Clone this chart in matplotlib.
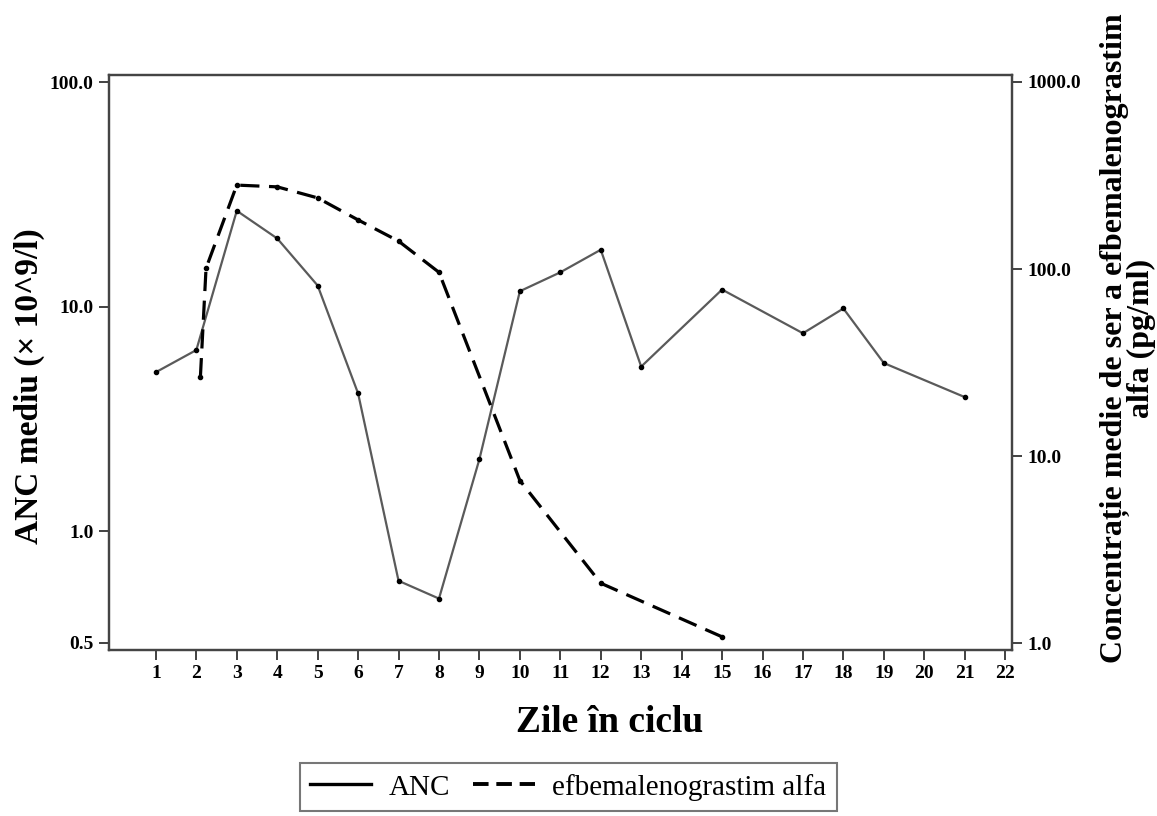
import matplotlib
matplotlib.use("Agg")
import matplotlib.pyplot as plt
from matplotlib.lines import Line2D

plt.rcParams['font.family'] = ['Liberation Serif', 'DejaVu Serif']

# ANC mediu (x 10^9/l), axa stanga
anc_days = [1, 2, 3, 4, 5, 6, 7, 8, 9, 10, 11, 12, 13, 15, 17, 18, 19, 21]
anc_vals = [5.1, 6.4, 26.7, 20.1, 12.4, 4.1, 0.60, 0.50, 2.09, 11.7, 14.2, 17.9,
            5.4, 11.9, 7.6, 9.8, 5.6, 3.95]

# efbemalenograstim alfa (pg/ml), axa dreapta
efb_days = [2.1, 2.24, 3, 4, 5, 6, 7, 8, 10, 12, 15]
efb_vals = [26.4, 101, 281, 275, 240, 183, 141, 96, 7.4, 2.09, 1.08]

x_ticks = list(range(1, 23))
left_ticks = [0.318, 1.0, 10.0, 100.0]
left_labels = ['0.5', '1.0', '10.0', '100.0']
right_ticks = [1.0, 10.0, 100.0, 1000.0]
right_labels = ['1.0', '10.0', '100.0', '1000.0']

fig = plt.figure(figsize=(11.57, 8.16), dpi=100)
ax = fig.add_axes([0.0942, 0.2034, 0.7805, 0.7047])
ax2 = ax.twinx()

ax.plot(anc_days, anc_vals, color='#5a5a5a', lw=1.6, marker='o', ms=3,
        mfc='black', mec='black')
ax2.plot(efb_days, efb_vals, color='black', lw=2.3, dashes=(6, 3), marker='o',
         ms=3, mfc='black', mec='black')

ax.set_yscale('log')
ax2.set_yscale('log')
ax.set_ylim(0.295, 107.5)
ax2.set_ylim(0.918, 1090)
ax.set_xlim(-0.16, 22.17)

ax.set_xticks(x_ticks)
ax.set_xticklabels([str(d) for d in x_ticks], fontsize=14, fontweight='bold')
ax.set_yticks(left_ticks)
ax.set_yticklabels(left_labels, fontsize=14, fontweight='bold')
ax.yaxis.set_minor_locator(matplotlib.ticker.NullLocator())
ax2.set_yticks(right_ticks)
ax2.set_yticklabels(right_labels, fontsize=14, fontweight='bold')
ax2.yaxis.set_minor_locator(matplotlib.ticker.NullLocator())

for a in (ax, ax2):
    a.tick_params(direction='out', length=7, width=1.3, color='#333333', pad=4)
    for s in a.spines.values():
        s.set_linewidth(1.6)
        s.set_color('#444444')

fig.text(610 / 1157, 1 - 722 / 816, 'Zile în ciclu', fontsize=27,
         fontweight='bold', ha='center', va='center')
fig.text(29 / 1157, 1 - 386 / 816, 'ANC mediu (× 10^9/l)', fontsize=24,
         fontweight='bold', ha='center', va='center', rotation=90)
fig.text(1128 / 1157, 1 - 338 / 816,
         'Concentrație medie de ser a efbemalenograstim\nalfa (pg/ml)',
         fontsize=23, fontweight='bold', ha='center', va='center',
         rotation=90, multialignment='center', linespacing=0.85)

handles = [Line2D([], [], color='black', lw=2.4),
           Line2D([], [], color='black', lw=2.8, dashes=(4, 2))]
leg = fig.legend(handles, ['ANC', 'efbemalenograstim alfa'], loc='center',
                 bbox_to_anchor=(0.491, 0.0355), ncol=2, fontsize=21,
                 frameon=True, fancybox=False, edgecolor='#555555',
                 handlelength=2.1, handletextpad=0.6, columnspacing=0.8,
                 borderpad=0.35)
leg.get_frame().set_linewidth(1.5)

fig.savefig('out.png', dpi=100)
